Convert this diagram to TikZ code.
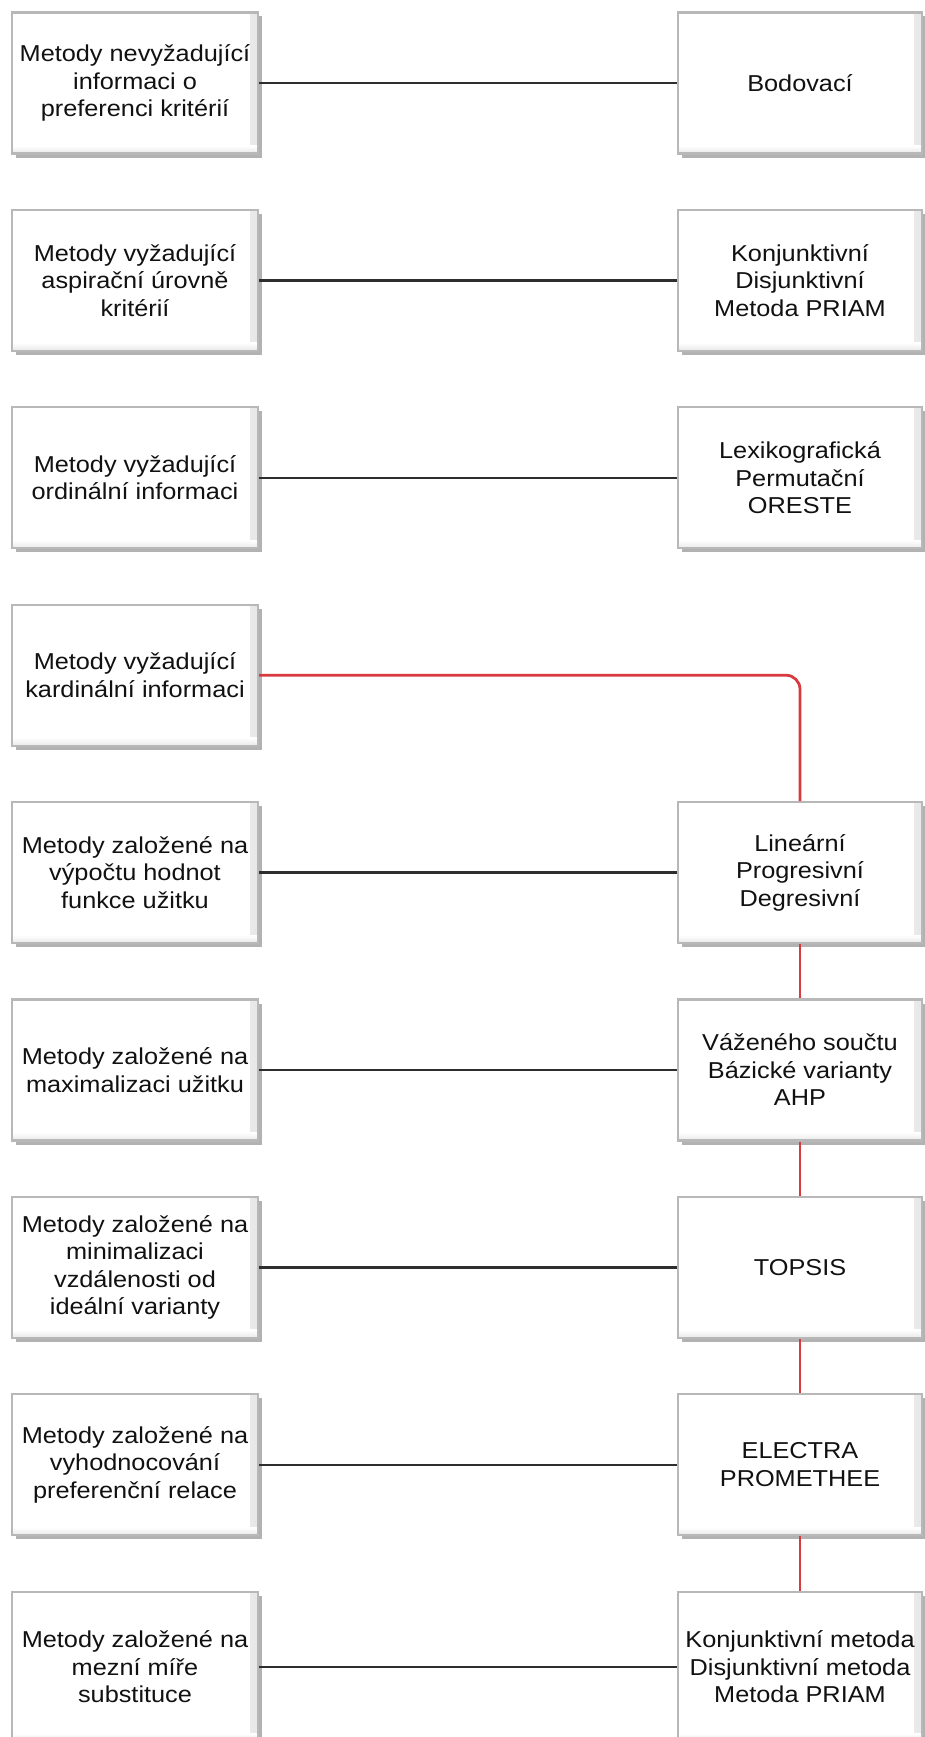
\documentclass[tikz,border=0pt]{standalone}
\usepackage{fontspec}
\setmainfont{Liberation Sans}
\newfontfamily\boxfont{Liberation Sans}[FakeStretch=1.1]
\usetikzlibrary{shadows}
\definecolor{bordergray}{HTML}{B8B8B8}
\definecolor{linegray}{HTML}{2E2E2E}
\definecolor{redline}{HTML}{D93A40}
\definecolor{txt}{HTML}{111111}
\begin{document}
\begin{tikzpicture}[x=1pt,y=-1pt,
  box/.style={draw=bordergray, line width=2.2pt, fill=white,
    minimum height=141pt, inner sep=0pt, align=center,
    font=\boxfont\fontsize{23}{27.5}\selectfont, text=txt,
    path picture={
      \fill[left color=white, right color=black!9]
        ([xshift=-8pt]path picture bounding box.north east) rectangle (path picture bounding box.south east);
      \fill[top color=white, bottom color=black!9]
        ([yshift=8pt]path picture bounding box.south west) rectangle (path picture bounding box.south east);
    },
    drop shadow={shadow xshift=4pt, shadow yshift=-4pt, opacity=0.3, fill=black}},
  lbox/.style={box, minimum width=246pt},
  rbox/.style={box, minimum width=244pt},
  lastrow/.style={minimum height=150pt},
  conn/.style={draw=linegray, line width=2.4pt},
  redconn/.style={draw=redline, line width=2.8pt}]
\useasboundingbox (0,0) rectangle (925,1737);
\clip (0,0) rectangle (925,1737);
% left column
\node[lbox] (L1) at (135,83)    {Metody nevyžadující\\informaci o\\preferenci kritérií};
\node[lbox] (L2) at (135,280.4) {Metody vyžadující\\aspirační úrovně\\kritérií};
\node[lbox] (L3) at (135,477.8) {Metody vyžadující\\ordinální informaci};
\node[lbox] (L4) at (135,675.2) {Metody vyžadující\\kardinální informaci};
\node[lbox] (L5) at (135,872.6) {Metody založené na\\výpočtu hodnot\\funkce užitku};
\node[lbox] (L6) at (135,1070)  {Metody založené na\\maximalizaci užitku};
\node[lbox] (L7) at (135,1267.4){Metody založené na\\minimalizaci\\vzdálenosti od\\ideální varianty};
\node[lbox] (L8) at (135,1464.8){Metody založené na\\vyhodnocování\\preferenční relace};
\node[lbox, lastrow] (L9) at (135,1666.7){Metody založené na\\mezní míře\\substituce};
% right column
\node[rbox] (R1) at (800,83)    {Bodovací};
\node[rbox] (R2) at (800,280.4) {Konjunktivní\\Disjunktivní\\Metoda PRIAM};
\node[rbox] (R3) at (800,477.8) {Lexikografická\\Permutační\\ORESTE};
\node[rbox] (R5) at (800,872.6) {Lineární\\Progresivní\\Degresivní};
\node[rbox] (R6) at (800,1070)  {Váženého součtu\\Bázické varianty\\AHP};
\node[rbox] (R7) at (800,1267.4){TOPSIS};
\node[rbox] (R8) at (800,1464.8){ELECTRA\\PROMETHEE};
\node[rbox, lastrow] (R9) at (800,1666.7){Konjunktivní metoda\\Disjunktivní metoda\\Metoda PRIAM};
% connectors
\draw[conn] (L1.east) -- (R1.west);
\draw[conn] (L2.east) -- (R2.west);
\draw[conn] (L3.east) -- (R3.west);
\draw[conn] (L5.east) -- (R5.west);
\draw[conn] (L6.east) -- (R6.west);
\draw[conn] (L7.east) -- (R7.west);
\draw[conn] (L8.east) -- (R8.west);
\draw[conn] (L9.east) -- (R9.west);
\draw[redconn, rounded corners=14pt] (L4.east) -| (R5.north);
\draw[redconn] (R5.south) -- (R6.north);
\draw[redconn] (R6.south) -- (R7.north);
\draw[redconn] (R7.south) -- (R8.north);
\draw[redconn] (R8.south) -- (R9.north);
\end{tikzpicture}
\end{document}
